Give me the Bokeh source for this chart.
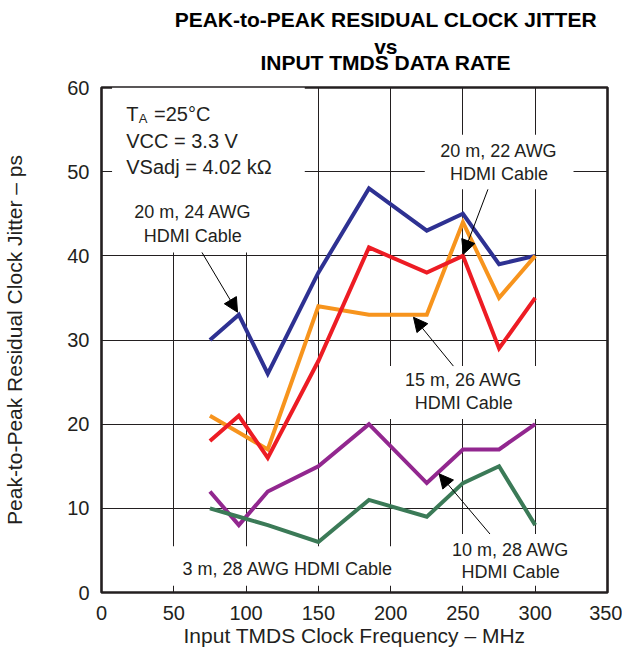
from bokeh.plotting import figure
from bokeh.layouts import column
from bokeh.models import Range1d, FixedTicker, Label, Arrow, NormalHead, BoxAnnotation
from bokeh.embed import file_html
from bokeh.resources import INLINE

# ---- data ----
freq = [75, 95, 115, 150, 185, 225, 250, 275, 300]
jit_20m_24awg = [30, 33, 26, 38, 48, 43, 45, 39, 40]
jit_15m_26awg = [21, 19, 17, 34, 33, 33, 44, 35, 40]
jit_20m_22awg = [18, 21, 16, 27.5, 41, 38, 40, 29, 35]
jit_10m_28awg = [12, 8, 12, 15, 20, 13, 17, 17, 20]
jit_3m_28awg = [10, 9, 8, 6, 11, 9, 13, 15, 8]
x_ticks = [0, 50, 100, 150, 200, 250, 300, 350]
y_ticks = [0, 10, 20, 30, 40, 50, 60]

title_lines = ["PEAK-to-PEAK RESIDUAL CLOCK JITTER", "vs", "INPUT TMDS DATA RATE"]
x_title = "Input TMDS Clock Frequency \u2013 MHz"
y_title = "Peak-to-Peak Residual Clock Jitter \u2013 ps"

# ---- layout constants ----
FONT = "Liberation Sans"
INK = "#231f20"
FIG_W = 618
BORDER_L = 97
BORDER_R = 15
BORDER_T = 11
BORDER_B = 54
FRAME_W = 506
FRAME_H = 505
TITLE_H = 76

# ---- annotation placement ----
title_baselines = [19.2, 45.5, 62.0]   # title panel pixels from top
cover_boxes = [  # data units: (left, right, bottom, top)
    (7.3, 140.6, 40.4, 60),
    (223.6, 326.5, 47.9, 54.4),
    (197.3, 304.4, 20.6, 26.9),
    (238.8, 328.6, 0.8, 6.95),
    (47.3, 209.0, 0.8, 5.5),
]
center_labels = [  # (text, x, y) data units
    ("20 m, 24 AWG", 63.2, 45.2),
    ("HDMI Cable", 63.2, 42.35),
    ("20 m, 22 AWG", 274.9, 52.45),
    ("HDMI Cable", 274.9, 49.7),
    ("15 m, 26 AWG", 250.5, 25.2),
    ("HDMI Cable", 250.5, 22.5),
    ("10 m, 28 AWG", 283.0, 5.03),
    ("HDMI Cable", 283.0, 2.44),
]
left_labels = [  # (text, x, y, size) data units
    ("3 m, 28 AWG HDMI Cable", 56.1, 2.74, "18px"),
    ("T", 17.1, 56.85, "20px"),
    ("A", 25.7, 56.3, "13px"),
    ("=25\u00b0C", 36.3, 56.85, "20px"),
    ("VCC = 3.3 V", 17.1, 53.65, "20px"),
    ("VSadj = 4.02 k\u03a9", 17.1, 50.5, "20px"),
]
arrows = [  # (x_start, y_start, x_end, y_end) data units
    (69.5, 40.4, 94.1, 33.3),
    (267.3, 47.9, 250.3, 40.2),
    (243.4, 26.9, 215.8, 32.7),
    (268.7, 6.95, 233.5, 14.1),
]

# ---- title panel ----
tf = figure(width=FIG_W, height=TITLE_H, x_range=Range1d(0, FIG_W), y_range=Range1d(TITLE_H, 0),
            min_border=0, toolbar_location=None, tools="", output_backend="svg",
            x_axis_location=None, y_axis_location=None, outline_line_color=None,
            title_location=None, background_fill_color="white", border_fill_color="white")
tf.grid.visible = False
for t, yb in zip(title_lines, title_baselines):
    tf.add_layout(Label(x=BORDER_L + FRAME_W / 2, y=yb, text=t, text_align="center",
                        text_baseline="alphabetic", text_font=FONT, text_font_size="21px",
                        text_font_style="bold", text_color="black"))

# ---- main chart ----
p = figure(
    frame_width=FRAME_W, frame_height=FRAME_H,
    min_border_left=BORDER_L, min_border_right=BORDER_R,
    min_border_top=BORDER_T, min_border_bottom=BORDER_B,
    x_range=Range1d(0, 350), y_range=Range1d(0, 60),
    output_backend="svg", toolbar_location=None, tools="",
    title_location=None,
    background_fill_color="white", border_fill_color="white",
)

p.outline_line_color = INK
p.outline_line_width = 2.6
p.outline_line_alpha = 1

for ax in (p.xaxis[0], p.yaxis[0]):
    ax.axis_line_color = None
    ax.major_tick_line_color = None
    ax.minor_tick_line_color = None
    ax.major_tick_out = 0
    ax.major_tick_in = 0
    ax.minor_tick_out = 0
    ax.minor_tick_in = 0
    ax.major_label_text_font = FONT
    ax.major_label_text_font_size = "20px"
    ax.major_label_text_color = INK
    ax.major_label_text_line_height = 1.0
    ax.axis_label_text_font = FONT
    ax.axis_label_text_font_size = "21px"
    ax.axis_label_text_font_style = "normal"
    ax.axis_label_text_color = INK
    ax.axis_label_text_line_height = 1.0

p.xaxis.ticker = FixedTicker(ticks=x_ticks)
p.yaxis.ticker = FixedTicker(ticks=y_ticks)
p.xaxis.axis_label = x_title
p.yaxis.axis_label = y_title
p.xaxis.major_label_standoff = 13
p.yaxis.major_label_standoff = 12
p.xaxis.axis_label_standoff = 1
p.yaxis.axis_label_standoff = 38

p.grid.grid_line_color = INK
p.grid.grid_line_width = 1
p.xgrid.ticker = FixedTicker(ticks=x_ticks)
p.ygrid.ticker = FixedTicker(ticks=y_ticks)

for (l, r, b, t) in cover_boxes:
    p.add_layout(BoxAnnotation(left=l, right=r, bottom=b, top=t,
                               fill_color="white", fill_alpha=1,
                               line_color=None, level="underlay"))

series = [
    (jit_20m_24awg, "#2e3192"),
    (jit_15m_26awg, "#f7941d"),
    (jit_20m_22awg, "#ed1c24"),
    (jit_10m_28awg, "#92278f"),
    (jit_3m_28awg, "#3b7a57"),
]
for ys, col in series:
    p.line(freq, ys, line_color=col, line_width=4, line_join="miter")

for (t, x, y) in center_labels:
    p.add_layout(Label(x=x, y=y, text=t, text_align="center", text_baseline="alphabetic",
                       text_font=FONT, text_font_size="18px", text_color=INK))
for (t, x, y, s) in left_labels:
    p.add_layout(Label(x=x, y=y, text=t, text_align="left", text_baseline="alphabetic",
                       text_font=FONT, text_font_size=s, text_color=INK))

for (xs, ys, xe, ye) in arrows:
    p.add_layout(Arrow(end=NormalHead(size=14, fill_color="black", line_color="black", line_width=1),
                       x_start=xs, y_start=ys, x_end=xe, y_end=ye,
                       line_color="black", line_width=1))

layout = column(tf, p, spacing=0)
open("out.html", "w").write(file_html(layout, INLINE))
